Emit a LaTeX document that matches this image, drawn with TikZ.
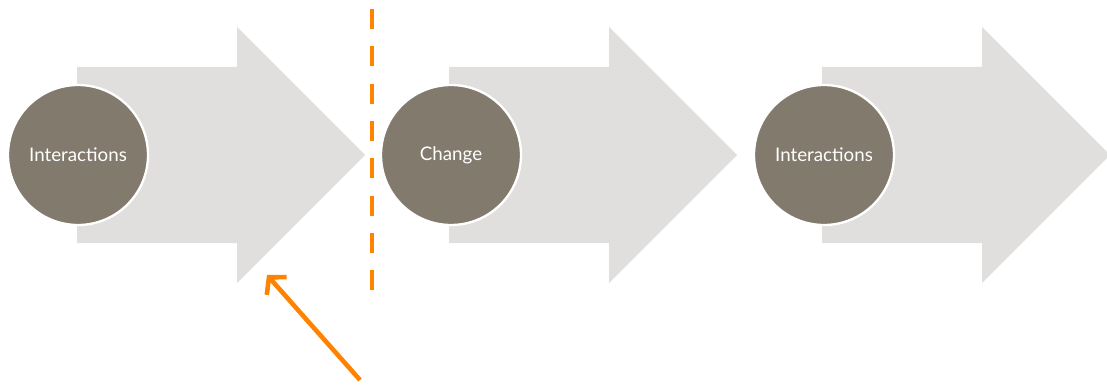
\documentclass[tikz,border=0pt]{standalone}
\usepackage{fontspec}
\setmainfont{Lato}
\usepackage{tikz}
\usetikzlibrary{arrows.meta, positioning}
\definecolor{StepGrey}{HTML}{E0DFDD}
\definecolor{StepBrown}{HTML}{837A6E}
\definecolor{CutOrange}{HTML}{FF8200}

\begin{document}
\begin{tikzpicture}[x=0.03cm, y=0.03cm,
    bigarrow/.style={fill=StepGrey, draw=none},
    stage/.style={circle, fill=StepBrown, draw=white, line width=2pt,
                  minimum size=4.2cm, inner sep=0pt, text=white,
                  font=\fontsize{16}{19}\selectfont},
    cutline/.style={draw=CutOrange, line width=3.9pt,
                    dash pattern=on 0.6cm off 0.52cm},
    pointer/.style={draw=CutOrange, line width=3.9pt,
                    -{Straight Barb[length=0.35cm, width=0.8cm]}}]
  \useasboundingbox (0,-233) rectangle (1107,155);

  % grey step arrows
  \foreach \x in {77, 449, 822} {
    \fill[bigarrow] (\x,88) -- ++(160,0) -- ++(0,40) -- ++(128,-128)
      -- ++(-128,-128) -- ++(0,40) -- ++(-160,0) -- cycle;
  }

  % stages
  \node[stage] (inter1) at (78,0) {Interactions};
  \node[stage] (change) at (451,0) {Change};
  \node[stage] (inter2) at (824,0) {Interactions};

  % dividing line and pointer
  \coordinate (cuttop) at (372,146);
  \coordinate (cutbot) at (372,-138);
  \draw[cutline] (cuttop) -- (cutbot);

  \coordinate (ptrfrom) at (360,-225);
  \coordinate (ptrto) at (267,-120);
  \draw[pointer] (ptrfrom) -- (ptrto);
\end{tikzpicture}
\end{document}
